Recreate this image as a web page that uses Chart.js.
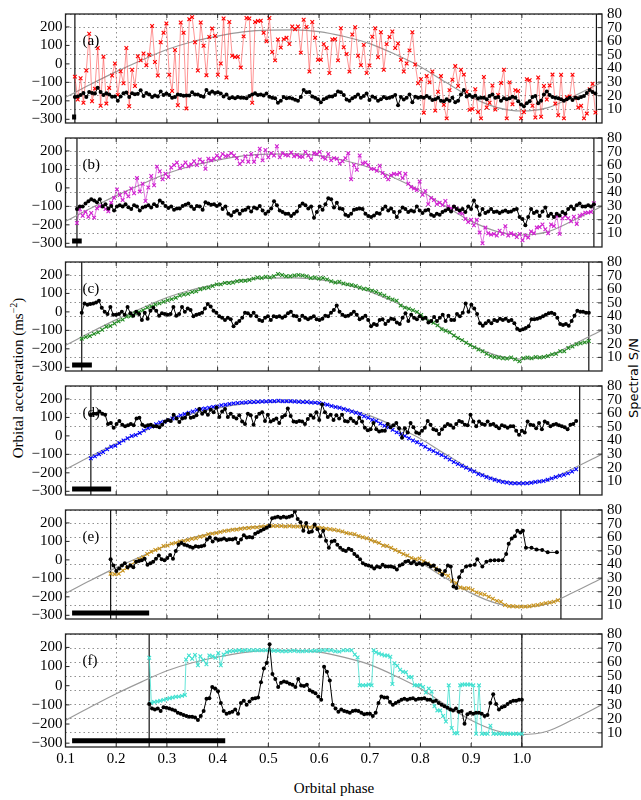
<!DOCTYPE html>
<html>
<head>
<meta charset="utf-8">
<script src="https://cdn.jsdelivr.net/npm/chart.js@4.4.1/dist/chart.umd.min.js"></script>
<style>
  html, body { margin: 0; padding: 0; background: #fff; }
  #fig { position: relative; width: 641px; height: 800px; overflow: hidden; }
  #fig canvas { position: absolute; left: 0; }
  .lab { position: absolute; white-space: nowrap; color: #000; transform: translate(-50%, -50%); }
  .serif { font-family: "Liberation Serif", serif; font-size: 15px; }
  .rot { transform: translate(-50%, -50%) rotate(-90deg); }
</style>
</head>
<body>
<div id="fig">
  <div class="lab serif rot" style="left:17px; top:378px;">Orbital acceleration (ms<sup style="font-size:10px">−2</sup>)</div>
  <div class="lab rot" style="left:633px; top:378px; font-family:'DejaVu Sans',sans-serif; font-size:13px;">Spectral S/N</div>
  <div class="lab serif" style="left:334px; top:788px;">Orbital phase</div>
</div>
<script>
// ---- axes ----
const phaseMin = 0.1, phaseMax = 1.158;
const accMin = -320, accMax = 270;
const snMin = 0, snMax = 80;
const xTicks = [0.1, 0.2, 0.3, 0.4, 0.5, 0.6, 0.7, 0.8, 0.9, 1.0];
const accTicks = [-300, -200, -100, 0, 100, 200];
const snTicks = [10, 20, 30, 40, 50, 60, 70, 80];

// ---- model curve (grey) ----
const modelPhase = [0.10, 0.15, 0.20, 0.25, 0.30, 0.35, 0.40, 0.45, 0.50, 0.55, 0.60, 0.65, 0.70, 0.75, 0.80, 0.85, 0.90, 0.95, 1.00, 1.05, 1.10, 1.15, 1.16];
const modelAcc = [-181, -110, -42, 20, 78, 120, 150, 173, 183, 184, 175, 148, 110, 52, -15, -100, -180, -235, -255, -238, -178, -110, -96];

// ---- per panel ----
const panelLabels = ['(a)', '(b)', '(c)', '(d)', '(e)', '(f)'];
const seriesStart = [0.1185, 0.1226, 0.132, 0.150, 0.189, 0.265];
const seriesEnd = [1.145, 1.142, 1.132, 1.107, 1.071, 1.0];
const lineEnd = [1.147, 1.142, 1.132, 1.114, 1.077, 1.0];
const expStart = 0.113;
const expEnd = [0.121, 0.132, 0.152, 0.190, 0.265, 0.415];
const expLevel = -288;

// (a)
const accA = [-69,-193,-78,-210,-36,163,-202,-134,86,-227,39,-215,-130,-63,2,-168,-40,-105,86,-229,-32,-120,41,19,56,-7,49,205,10,-63,117,168,219,-59,-147,75,-224,224,168,-241,242,253,117,-36,224,98,-61,146,192,151,-59,2,246,-74,227,44,37,39,-20,149,248,246,-210,227,232,234,168,122,248,64,19,132,88,134,141,108,202,188,202,61,239,200,-41,227,141,22,22,107,86,-49,132,134,19,193,90,53,-42,159,198,44,-7,103,-49,-8,147,193,36,171,-32,107,146,175,86,110,22,-41,2,73,171,-3,-105,-83,-264,-66,-100,-41,-253,-151,-66,-222,-295,-142,-86,-12,-120,-32,-58,-151,-249,-244,-137,-261,-295,-71,-236,-210,-117,-247,-168,-103,-32,-295,-100,-219,-142,-147,-295,-261,-83,-88,-227,-290,-74,-286,-120,-193,-117,-58,-215,-278,-59,-295,-181,-176,-59,-185,-236,-227,-295,-269,-137,-108,-263];
const snA = [19.1,19.5,20.5,22,19.1,22.7,22,21.6,25.9,22.7,20.5,21.8,20.9,19.3,19.5,16.4,19.5,21.8,22.3,19.1,21.8,21.1,21.4,24.1,19.8,22,20.9,19.1,20.2,19.5,23.2,20.5,21.6,20.5,18.6,19.1,20.9,20.5,20,20.2,20.2,22.5,20.9,20.9,19.8,19.3,24.3,21.8,23.2,22,22.5,21.6,19.5,20.9,18.2,18.9,18.2,19.1,18.6,18.6,18.2,19.8,20.9,21.8,20.5,20.9,20.2,21.6,19.3,18.6,18.2,14.8,16.4,19.1,18.2,18.6,18,17,16.4,19.1,24.3,22.5,22.7,19.5,18.6,17.5,15.2,17.5,18.4,19.5,19.5,20.5,23.2,22.5,20.5,17.3,16.4,18.2,19.3,20.9,18.6,19.8,21.6,16.8,19.5,18.6,16.4,17.5,19.1,18.2,18.6,19.3,20.5,13,19.1,17.3,18.6,20.9,15.2,19.3,18.6,19.1,18.6,19.8,18.6,16.8,17.5,18.6,16.4,15.9,17.5,16.4,18.6,15.2,16.4,20.9,24.3,19.5,20.5,19.1,20,18.2,18.6,18.6,17.5,19.8,20.9,18.6,19.1,16.4,18.2,17.5,18.2,19.3,18.6,15.9,13.6,12.3,14.5,15.9,19.1,19.8,14.5,16.4,20.9,23.2,20.5,19.1,18.6,18.2,17.5,16.4,17.5,18.6,16.8,18.6,18.2,19.1,19.8,22,24.3,22.7,21.6];

// (b)
const accB = [-190,-114,-151,-130,-156,-136,-161,-110,-100,-97,-114,-127,-80,-54,-8,-39,-66,-25,-46,-3,-29,53,-20,22,-71,2,64,14,115,90,47,76,59,110,124,137,107,120,137,117,127,144,124,154,141,103,158,149,158,175,163,183,171,175,188,175,161,129,144,171,141,183,141,171,212,149,205,166,188,175,225,166,188,178,175,192,171,178,168,168,195,175,154,188,183,195,166,158,183,149,161,158,132,144,161,188,47,124,98,175,132,137,124,103,103,93,120,81,64,46,69,76,73,81,53,76,22,5,-3,-12,34,-37,-17,-88,-54,-66,-88,-80,-93,-71,-100,-110,-105,-114,-134,-139,-168,-185,-173,-202,-173,-241,-300,-215,-246,-253,-249,-258,-232,-249,-207,-258,-246,-253,-266,-249,-283,-258,-269,-236,-246,-215,-212,-198,-224,-246,-198,-207,-151,-249,-164,-151,-164,-181,-156,-195,-151,-144,-134,-134,-130,-83];
const snB = [27.8,29.7,29.7,32,33.5,35.1,34.2,32.9,35.1,29.7,31.3,28.3,30.1,26.7,29.7,30.6,29.7,31.3,29.2,27.8,30.6,29.7,26.7,29,29.7,30.6,29,31.3,30.1,34.2,32.4,30.1,28.7,29.7,27.4,28.3,28.3,30.1,31,32,29.7,27.8,30.1,29.7,27.4,32.9,32,31,31.3,30.1,31.3,27.8,29.7,24.4,23.2,25.6,26.7,24.4,26.7,27.4,29,26,29,28.3,30.1,26.7,24.4,26,28.3,33.5,30.6,26.7,25.6,24.4,24.4,22.7,24.4,26,30.1,32,30.6,28.3,29.7,21.4,25.6,29.7,27.4,31.3,35.8,35.1,29,32.4,28.3,27.8,23.6,22.7,24.4,27.4,27.8,28.3,27.8,24.4,22.7,22,23.2,25,24.4,27.8,29.7,26.7,28.3,25.6,22,26,29,27.8,25.6,26.7,26,29.7,26.7,25,26.7,27.4,23.6,22.7,24.4,23.6,25.6,26.7,27.8,26,29.7,27.8,26.7,27.8,25.6,29.7,27.8,34.2,29.7,23.6,27.8,25,26,27.8,25.6,26,25,26,26.7,25.6,26,27.4,27.8,22,20.5,15.9,22,27.8,25,26,22.7,26,29,22.7,24.4,22,24.4,23.2,25.6,24.4,27.8,29.7,27.8,30.6,32,29.7,29.7,30.6,29.7,31.3];

// (c)
const accC = [-145,-136,-131,-119,-111,-97,-80,-76,-63,-51,-42,-25,-22,-8,-1,9,23,29,40,46,55,63,69,77,89,94,98,108,111,122,128,132,140,149,149,157,156,159,166,168,169,173,180,186,183,190,186,193,205,200,193,193,197,200,197,193,183,186,180,183,176,166,159,163,154,149,145,140,132,125,123,115,108,98,89,77,67,60,34,23,17,9,0,-17,-34,-51,-59,-73,-94,-102,-111,-128,-141,-153,-167,-179,-192,-204,-213,-227,-239,-244,-247,-251,-252,-247,-257,-268,-251,-247,-251,-244,-247,-244,-239,-230,-227,-213,-213,-196,-187,-175,-170,-165,-158];
const snC = [42.8,49.6,48.7,49.2,49.6,50.3,51.5,46.5,43.5,41.9,46.9,41.3,41.3,41.9,43.5,41.3,46.9,42.4,40.6,43.5,41.9,37.4,42.8,38.3,44.2,46.5,44.2,40.6,42.4,41.9,41.3,41.9,46.9,40.6,41.9,46.9,43.5,45.8,44.7,40.1,41.3,41.9,42.8,45.8,49.2,47.4,44.2,42.8,40.1,39,37.4,39,37.9,32.9,35.1,36.7,39,42.8,42.4,40.6,42.8,40.1,37.4,36.7,39,40.1,37.4,40.1,39.7,40.1,39,40.1,42.4,43.5,40.6,40.1,37.4,40.6,39,37.9,39,40.1,37.9,37.4,38.3,40.6,40.1,42.8,44.7,48.1,43.5,41.3,40.1,40.6,41.9,43.5,41.3,37.9,39,40.6,37.4,32.9,34.5,33.8,37.4,37.9,34.5,36.7,38.3,37.9,35.6,34.5,39,42.4,36.7,41.3,39,37.9,40.1,38.3,39,35.6,36.7,39.7,36.7,39,41.3,36.7,40.6,37.4,37.4,41.9,40.1,42.8,49.6,43.5,48.7,45.8,41.9,35.1,33.3,35.1,36.7,35.1,37.4,36.7,38.3,37.4,38.3,36.7,37.4,35.1,31.1,29.9,30.6,31.5,32.9,37.9,37.9,38.3,39,40.1,41.3,42.4,42.8,41.9,39,34.5,33.8,34.5,33.3,36.7,40.6,44.2,43.5,43.5,42.8,42.8];

// (d)
const accD = [-121,-111,-99,-87,-73,-59,-53,-39,-25,-13,-1,5,16,29,43,50,63,72,77,84,94,101,111,118,125,132,140,145,149,152,157,159,166,169,173,176,178,180,181,183,183,185,186,186,188,188,190,188,188,188,186,185,183,183,181,180,178,174,169,162,156,152,145,139,132,125,118,106,98,87,81,67,55,46,33,19,9,-1,-13,-25,-35,-47,-59,-73,-82,-94,-104,-116,-128,-141,-152,-162,-172,-184,-193,-206,-213,-223,-230,-237,-244,-250,-252,-256,-257,-257,-257,-256,-254,-250,-247,-244,-237,-230,-223,-216,-210,-203,-193,-181];
const snD = [58.9,59.6,59.6,61.2,59.6,58.9,52.1,52.8,49.3,52.1,54.4,51.6,50.5,51.2,52.1,51.2,56.2,56.7,51.6,50.5,51.2,51.6,50.5,50.5,49.8,51.6,53.9,55.1,54.4,58.9,56.2,53.5,56.2,56.7,59.6,56.7,57.3,58.5,63.1,59.6,61.2,58.9,62.6,60.8,64.2,57.3,61.2,63.1,57.3,59.6,57.3,56.2,58.5,53.9,52.1,59.6,58.5,51.6,57.3,59.6,60.8,54.4,58.9,53.9,55.1,56.2,52.8,57.3,58.5,63.5,58,53.9,53.5,54.4,53.9,52.1,55.7,58.5,56.7,60.8,55.1,66.5,60.8,57.3,58.9,55.1,58.5,56.2,58.9,54.4,53.9,56.2,54.4,52.8,56.7,53.9,49.3,47.5,48.2,52.8,48.2,46.6,47.1,47.1,52.1,49.8,51.2,52.8,48.9,42,48.9,45.9,52.8,49.8,45.9,45.2,47.1,49.3,54.4,51.6,48.2,47.5,44.8,48.2,50.5,52.1,51.2,49.3,52.1,54.4,53.5,51.6,51.2,58.9,53.9,50.5,53.9,52.1,51.6,53.9,51.6,52.1,50.5,48.9,51.2,50.5,49.3,50.5,50.5,47.1,44.3,47.1,45.9,53.9,51.6,51.2,48.9,52.8,48.2,53.9,52.8,50.5,51.6,52.1,51.2,50.5,49.8,48.2,51.6,52.1,54.4];

// (e)
const accE = [-75,-78,-75,-58,-44,-27,-10,3,15,32,44,54,61,75,78,88,92,100,103,108,114,117,125,129,139,142,146,151,156,159,163,164,168,171,173,176,176,180,181,183,183,183,183,181,183,181,181,181,180,176,180,176,173,169,166,163,159,154,146,142,139,129,122,117,108,100,92,78,75,66,54,44,32,24,10,3,7,-7,-19,-31,-47,-64,-75,-86,-115,-125,-149,-154,-154,-163,-176,-183,-188,-200,-210,-222,-227,-244,-251,-251,-253,-253,-253,-251,-247,-244,-239,-234,-231,-227,-219];
const snE = [43.9,39.3,35.2,37,39.3,40.9,38,39.3,38,42,42.5,43.2,44.3,39.8,40.9,42,44.3,46.6,43.9,43.2,44.8,47,44.3,50,54.5,55.7,54.5,53.9,53,52.3,53.4,53,53.4,53.9,58.4,59.8,56.8,59.1,58,58.4,59.1,58,58.6,58.4,59.1,55.7,58.4,61.4,59.8,60.2,59.8,62.5,63.6,64.8,65.9,67,68.2,73.9,74.5,75,74.3,75,74.5,75,75.7,78.9,73.4,71.1,64.8,70.5,63.6,64.3,69.3,65.9,60.7,64.8,57.5,52.3,56.8,57.5,54.5,52.3,50.7,50,51.6,50.7,47.7,46.1,43.9,40.9,39.8,39.3,38.6,37,38.6,38,39.8,38.6,38.6,38.6,38,36.4,39.3,40.2,42,42.5,40.9,42,40.2,40.9,39.8,40.9,40.2,38.6,39.3,36.4,35.7,32.5,35.2,39.3,38.6,23.9,22.7,30.7,35.2];
const snEMainEnd = 0.882;
const snETailPhase = [0.890,0.898,0.907,0.912,0.922,0.930,0.938,0.946,0.954,0.962,0.969,0.974,0.980,0.986,0.991,0.997,1.002,1.008,1.019,1.029,1.040,1.051,1.069];
const snETail = [38.6,39.3,39.8,43.9,38.6,42,42.9,43.2,43.2,43.2,47.7,55.2,59.1,60.7,64.8,63.4,64.8,52.3,52.3,51.1,50.7,48.9,48.9];

// (f)
const accFPhase = [0.2652,0.2692,0.2749,0.2813,0.2869,0.2934,0.2990,0.3055,0.3111,0.3176,0.3232,0.3297,0.3353,0.3377,0.3434,0.3498,0.3554,0.3611,0.3659,0.3716,0.3780,0.3836,0.3901,0.3957,0.4014,0.4062,0.4118,0.4183,0.4239,0.4304,0.4360,0.4425,0.4481,0.4546,0.4626,0.4707,0.4787,0.4868,0.4948,0.5029,0.5110,0.5190,0.5271,0.5351,0.5432,0.5513,0.5593,0.5674,0.5754,0.5835,0.5915,0.5996,0.6077,0.6157,0.6238,0.6318,0.6399,0.6479,0.6560,0.6641,0.6705,0.6761,0.6802,0.6866,0.6923,0.6979,0.7036,0.7076,0.7124,0.7180,0.7237,0.7293,0.7350,0.7406,0.7446,0.7487,0.7543,0.7600,0.7656,0.7712,0.7769,0.7825,0.7882,0.7938,0.7994,0.8051,0.8107,0.8164,0.8220,0.8276,0.8333,0.8389,0.8446,0.8502,0.8558,0.8615,0.8671,0.8728,0.8784,0.8824,0.8873,0.8929,0.8985,0.9042,0.9098,0.9155,0.9211,0.9268,0.9324,0.9380,0.9437,0.9493,0.9550,0.9606,0.9662,0.9719,0.9775,0.9831,0.9888,0.9944,1.0000];
const accF = [146,-91,-85,-82,-79,-74,-70,-65,-62,-58,-57,-53,-48,137,158,141,161,107,154,134,112,158,154,146,171,107,163,175,180,181,183,185,183,185,185,185,185,185,185,185,183,183,180,180,181,183,180,180,181,181,183,183,185,185,185,180,178,185,185,185,163,148,2,2,2,6,2,185,175,168,163,158,158,151,9,117,104,83,73,70,45,45,2,2,2,-6,-36,-15,-31,-107,-129,-129,-158,-187,2,-221,-248,-248,2,6,6,6,6,2,-251,2,-251,-251,-251,-209,-251,-251,-251,-251,-251,-251,-251,-251,-251,-251,-251];
const snF = [30.5,27.3,26.6,27.3,25.5,28.2,27.7,27.3,26.6,25.9,24.3,23.6,22.7,22,21.4,21.4,20.9,19.1,22,25.5,34.1,34.5,42.5,41.4,39.5,31.1,25.5,23.6,24.3,25,26.6,23.6,31.1,32.7,30,32.3,34.1,34.5,35,45.9,55.5,59.5,72.7,51.6,48.2,42.5,45.5,46.4,45.9,44.8,44.1,42.5,48.2,43.6,43.2,44.1,40.2,39.1,38,35.7,33.4,56.8,53.2,47,30,27.3,25,26.6,25.5,25,24.3,25.5,25.9,25.5,24.3,23.2,23.6,23.6,22,24.3,31.1,35.7,35,35,31.8,30,31.1,32.3,33.4,34.1,33.4,34.1,34.5,33.4,34.1,34.1,34.5,33.4,33.4,32.3,32.7,31.1,30,28.9,27.7,26.6,25.9,27.3,25,25.5,16.4,23.2,24.3,23.6,24.3,24.3,23.6,22,22.7,31.1,37.3,30.5,26.6,28.2,28.9,30.5,31.8,32.7,32.7,33.4,33.4];

const markerColors = ['#ff0000', '#d020d0', '#228b22', '#0000ff', '#c8921a', '#40e0d0'];
const lineColors = ['rgba(255,60,60,0.55)', 'rgba(208,32,208,0.6)', 'rgba(34,139,34,0.55)', 'rgba(0,0,255,0.5)', 'rgba(200,146,26,0.55)', 'rgba(64,224,208,0.8)'];

// ---- helpers ----
function uniform(values, p0, p1) {
  const n = values.length;
  return values.map((v, i) => ({ x: p0 + (p1 - p0) * i / (n - 1), y: v }));
}
function paired(phases, values) {
  return values.map((v, i) => ({ x: phases[i], y: v }));
}
const minus = v => String(v).replace('-', '\u2212');

const accData = [
  uniform(accA, seriesStart[0], seriesEnd[0]),
  uniform(accB, seriesStart[1], seriesEnd[1]),
  uniform(accC, seriesStart[2], seriesEnd[2]),
  uniform(accD, seriesStart[3], seriesEnd[3]),
  uniform(accE, seriesStart[4], seriesEnd[4]),
  paired(accFPhase, accF)
];
const snData = [
  uniform(snA, seriesStart[0], seriesEnd[0]),
  uniform(snB, seriesStart[1], seriesEnd[1]),
  uniform(snC, seriesStart[2], seriesEnd[2]),
  uniform(snD, seriesStart[3], seriesEnd[3]),
  uniform(snE, seriesStart[4], snEMainEnd).concat(paired(snETailPhase, snETail)),
  uniform(snF, seriesStart[5], seriesEnd[5])
];

// ---- layout ----
const PANEL_TOP = [10, 134, 258, 382, 506, 630];
const PANEL_H = 117;
const PAD = 10;
const FONT = { family: '"Liberation Serif", serif', size: 15 };
const GRID = 'rgba(0,0,0,0.55)';

const framePlugin = {
  id: 'frame',
  afterDatasetsDraw(chart, args, opts) {
    const { ctx, chartArea: { left, right, top, bottom }, scales } = chart;
    ctx.save();
    ctx.strokeStyle = '#222';
    ctx.lineWidth = 1;
    ctx.beginPath();
    xTicks.forEach(v => {
      const px = scales.x.getPixelForValue(v);
      ctx.moveTo(px, bottom); ctx.lineTo(px, bottom - 4);
      ctx.moveTo(px, top); ctx.lineTo(px, top + 4);
    });
    accTicks.forEach(v => {
      const py = scales.yAcc.getPixelForValue(v);
      ctx.moveTo(left, py); ctx.lineTo(left + 4, py);
    });
    snTicks.forEach(v => {
      const py = scales.ySn.getPixelForValue(v);
      ctx.moveTo(right, py); ctx.lineTo(right - 4, py);
    });
    ctx.stroke();
    ctx.lineWidth = 1.3;
    ctx.strokeRect(left, top, right - left, bottom - top);
    ctx.font = '15px "Liberation Serif", serif';
    ctx.fillStyle = '#000';
    ctx.textBaseline = 'middle';
    ctx.fillText(opts.label, left + 17, top + 27);
    ctx.restore();
  }
};

const fig = document.getElementById('fig');

for (let i = 0; i < 6; i++) {
  const last = i === 5;
  const canvas = document.createElement('canvas');
  const h = last ? PAD + PANEL_H + 30 : PAD + PANEL_H + PAD;
  canvas.width = 641;
  canvas.height = h;
  canvas.style.top = (PANEL_TOP[i] - PAD) + 'px';
  canvas.style.width = '641px';
  canvas.style.height = h + 'px';
  fig.appendChild(canvas);

  new Chart(canvas, {
    type: 'scatter',
    data: {
      datasets: [
        {
          data: snData[i], yAxisID: 'ySn', showLine: true, order: 0,
          borderColor: '#000', borderWidth: 1,
          pointStyle: 'circle', pointRadius: 2, pointBackgroundColor: '#000', pointBorderWidth: 0
        },
        {
          data: accData[i], yAxisID: 'yAcc', showLine: true, order: 1,
          borderColor: lineColors[i], borderWidth: 1,
          pointStyle: 'crossRot', pointRadius: 2.6, pointBorderColor: markerColors[i], pointBorderWidth: 1.1
        },
        {
          data: paired(modelPhase, modelAcc), yAxisID: 'yAcc', showLine: true, order: 2,
          borderColor: '#9a9a9a', borderWidth: 1.2, pointRadius: 0, cubicInterpolationMode: 'monotone'
        },
        {
          data: [{ x: seriesStart[i], y: accMin }, { x: seriesStart[i], y: accMax }], yAxisID: 'yAcc', showLine: true, order: 3,
          borderColor: '#111', borderWidth: 1.2, pointRadius: 0
        },
        {
          data: [{ x: lineEnd[i], y: accMin }, { x: lineEnd[i], y: accMax }], yAxisID: 'yAcc', showLine: true, order: 3,
          borderColor: '#111', borderWidth: 1.2, pointRadius: 0
        },
        {
          data: [{ x: expStart, y: expLevel }, { x: expEnd[i], y: expLevel }], yAxisID: 'yAcc', showLine: true, order: 0,
          borderColor: '#000', borderWidth: 5, borderCapStyle: 'butt', pointRadius: 0
        }
      ]
    },
    options: {
      responsive: false,
      animation: false,
      devicePixelRatio: 1,
      layout: { padding: { top: PAD, bottom: last ? 0 : PAD, left: 0, right: 0 } },
      plugins: {
        legend: { display: false },
        tooltip: { enabled: false },
        frame: { label: panelLabels[i] }
      },
      scales: {
        x: {
          type: 'linear', min: phaseMin, max: phaseMax,
          afterBuildTicks: s => { s.ticks = xTicks.map(v => ({ value: v })); },
          afterFit: s => { s.height = last ? 30 : 0; },
          grid: { color: GRID, lineWidth: 0.8, drawTicks: false },
          border: { display: false, dash: [1.5, 3] },
          ticks: {
            display: last, padding: 3, font: FONT, color: '#000',
            maxRotation: 0, autoSkip: false, callback: v => v.toFixed(1)
          }
        },
        yAcc: {
          position: 'left', min: accMin, max: accMax,
          afterBuildTicks: s => { s.ticks = accTicks.map(v => ({ value: v })); },
          afterFit: s => { s.width = 65.5; },
          grid: { display: false, drawTicks: false },
          border: { display: false },
          ticks: { padding: 3, font: FONT, color: '#000', autoSkip: false, callback: v => minus(v) }
        },
        ySn: {
          position: 'right', min: snMin, max: snMax,
          afterBuildTicks: s => { s.ticks = snTicks.map(v => ({ value: v })); },
          afterFit: s => { s.width = 39; },
          grid: { color: GRID, lineWidth: 0.8, drawTicks: false },
          border: { display: false, dash: [1.5, 3] },
          ticks: { padding: 5, font: FONT, color: '#000', autoSkip: false }
        }
      }
    },
    plugins: [framePlugin]
  });
}
</script>
</body>
</html>
